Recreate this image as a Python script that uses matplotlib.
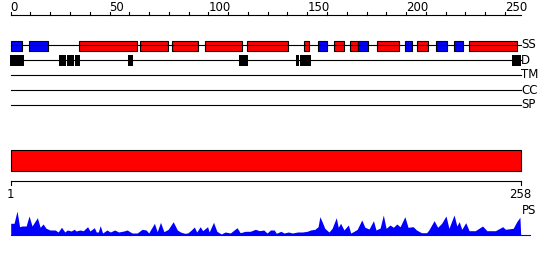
import matplotlib
matplotlib.use("Agg")
import matplotlib.pyplot as plt
from matplotlib.patches import Rectangle

# =========================
# DATA
# =========================
seq_len = 258

# secondary structure: H = helix (red), E = strand (blue)
ss_start = [0, 9.4, 34.7, 65.6, 81.7, 98.4, 119.5, 148.5, 155.6, 163.7, 171.8,
            175.5, 185.4, 199.6, 205.7, 215.3, 224.4, 231.7]
ss_end = [5.6, 18.7, 63.7, 79.7, 94.6, 116.8, 140.4, 150.7, 159.8, 168.7, 175.5,
          180.6, 196.6, 202.8, 210.9, 220.5, 228.6, 255.9]
ss_type = ["E", "E", "H", "H", "H", "H", "H", "H", "E", "H", "H",
           "E", "H", "E", "H", "E", "E", "H"]

# disordered regions
dis_start = [-0.3, 24.4, 28.3, 32.5, 59.3, 115.5, 144.2, 146.3, 253.7]
dis_end = [6.7, 27.8, 32.0, 35.1, 61.9, 120.0, 145.8, 151.7, 258.1]

track_names = ["SS", "D", "TM", "CC", "SP"]

top_ticks = list(range(0, 251, 10))
top_labels = list(range(0, 251, 50))

# PS profile
ps_pos = [0, 1.7, 3.2, 4.5, 5.7, 7.8, 9.3, 10.8, 13.5, 14.9, 16.4, 17.9, 19.9,
          22.5, 24.0, 25.7, 27.4, 28.6, 30.6, 32.1, 33.1, 35.0, 36.7, 38.9,
          40.1, 42.3, 43.3, 44.3, 45.3, 46.5, 48.7, 50.4, 52.6, 54.6, 57.2,
          58.9, 61.4, 64.0, 66.5, 68.5, 69.8, 72.7, 74.1, 75.8, 77.5, 79.7,
          82.2, 84.3, 85.9, 88.0, 89.5, 91.2, 92.9, 94.1, 95.9, 97.1, 99.6,
          100.4, 102.6, 104.3, 106.5, 108.5, 111.1, 114.5, 116.1, 118.7, 121.2,
          123.8, 125.8, 128.0, 129.7, 131.4, 133.3, 134.4, 136.7, 138.3, 140.5,
          142.5, 145.1, 147.6, 150.0, 151.7, 153.9, 155.5, 156.4, 157.6, 158.9,
          161.0, 162.6, 164.7, 165.7, 166.9, 168.6, 170.8, 172.0, 173.7, 175.3,
          177.6, 179.2, 181.3, 183.5, 184.8, 186.9, 188.5, 189.9, 191.9, 193.6,
          195.3, 197.0, 199.4, 201.0, 203.6, 205.3, 207.8, 210.4, 211.5, 214.2,
          216.0, 218.0, 220.2, 221.7, 224.3, 225.7, 226.9, 228.2, 230.2, 231.9,
          235.0, 238.7, 240.9, 245.2, 248.9, 250.3, 254.2, 256.0, 257.6, 258]
ps_val = [11.7, 11.7, 24, 8.3, 9, 9, 19, 9, 17.3, 7.7, 11, 6.7, 5,
          5, 3, 7.7, 3, 5, 4, 5.7, 4, 5, 4.3, 8.3,
          4, 7.3, 3, 3, 9.3, 2, 5, 3, 5, 3, 4,
          5, 2, 2, 5.7, 5, 2, 11.7, 3.3, 12.7, 3.3, 5.7,
          13.3, 5, 3, 1.7, 2, 4.7, 8, 3, 8.3, 4.3, 8.3,
          3, 12.7, 3.7, 1, 3, 2, 7.3, 2.3, 3.7, 3.7,
          5.7, 4.3, 5, 2, 5, 5, 1.7, 3.7, 2, 3,
          2, 3, 3, 3.7, 5, 5.7, 8.3, 18.3, 13, 6.7,
          3, 6.7, 17.3, 7.7, 11.7, 5, 10, 2, 3.7, 5.7,
          15, 7.7, 6, 14.3, 5, 7, 20, 6.7, 10, 7.7,
          11, 8.3, 18.3, 7.7, 8.3, 5, 2.3, 2.3, 5, 14.3,
          7.7, 11.7, 19, 6.7, 20, 9, 13.3, 5.7, 12.3, 4.3,
          4.3, 9, 4.3, 4.3, 8.3, 5.7, 6.7, 13.3, 17.7, 0]

# =========================
# PLOT
# =========================
RED = "#ff0000"
BLUE = "#0000ff"
LW = 0.8
FS = 8.5

fig = plt.figure(figsize=(5.5, 2.6), dpi=100)
ax = fig.add_axes([10.7 / 550, 0, 510 / 550, 1])
ax.set_xlim(0, seq_len)
ax.set_ylim(260, 0)
ax.axis("off")

# top ruler
ax.plot([0, seq_len], [15, 15], color="k", lw=LW, clip_on=False)
for t in top_ticks:
    ax.plot([t, t], [15, 12], color="k", lw=LW, clip_on=False)
for t in top_labels:
    ax.text(t, 11, str(t), ha="left", va="baseline", fontsize=FS, clip_on=False)

# feature tracks
track_y = [45, 60, 75, 90, 105]
for name, y in zip(track_names, track_y):
    ax.plot([0, seq_len + 0.2], [y, y], color="k", lw=LW, clip_on=False)
    ax.text(seq_len + 0.3, y, name, ha="left", va="center", fontsize=FS,
            clip_on=False)

for s, e, t in zip(ss_start, ss_end, ss_type):
    ax.add_patch(Rectangle((s, 40.5), e - s, 10, facecolor=RED if t == "H" else BLUE,
                           edgecolor="k", lw=LW, clip_on=False))

for s, e in zip(dis_start, dis_end):
    ax.add_patch(Rectangle((s, 55), e - s, 10.5, facecolor="k", edgecolor="none",
                           clip_on=False))

# full-length bar
ax.add_patch(Rectangle((0, 150), seq_len, 20.5, facecolor=RED, edgecolor="k",
                       lw=LW, clip_on=False))

# bottom ruler
ax.plot([0, seq_len], [180.5, 180.5], color="k", lw=LW, clip_on=False)
for t in [0, seq_len]:
    ax.plot([t, t], [180.5, 185], color="k", lw=LW, clip_on=False)
ax.text(0, 195, "1", ha="center", va="center", fontsize=FS, clip_on=False)
ax.text(seq_len, 195, str(seq_len), ha="center", va="center", fontsize=FS,
        clip_on=False)

# PS profile
base = 235
ax.fill_between(ps_pos, base, [base - v for v in ps_val], color=BLUE, lw=0,
                clip_on=False)
ax.plot([0, seq_len + 4.7], [base, base], color=BLUE, lw=LW, clip_on=False)
ax.text(seq_len + 0.5, 211, "PS", ha="left", va="center", fontsize=FS,
        clip_on=False)

fig.savefig("out.png", dpi=100)
